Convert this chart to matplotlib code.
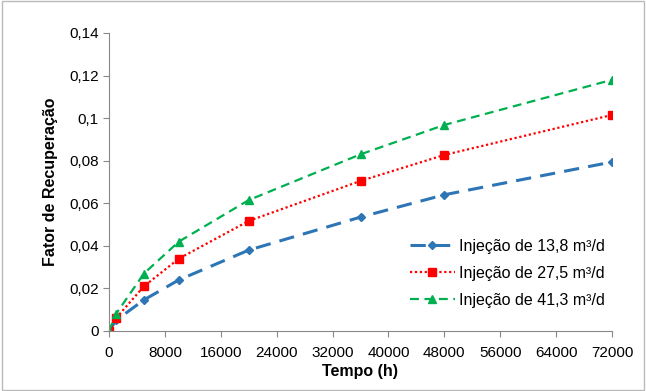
import matplotlib
matplotlib.use('Agg')
import matplotlib.pyplot as plt
from matplotlib.ticker import FuncFormatter

plt.rcParams['font.family'] = ['Liberation Sans', 'DejaVu Sans']

tempo = [0, 1000, 5000, 10000, 20000, 36000, 48000, 72000]
fr_138 = [0, 0.005, 0.0146, 0.024, 0.038, 0.0535, 0.064, 0.0794]
fr_275 = [0, 0.006, 0.021, 0.034, 0.0517, 0.0705, 0.0827, 0.1015]
fr_413 = [0, 0.008, 0.027, 0.042, 0.0615, 0.083, 0.0968, 0.118]
labels = ['Injeção de 13,8 m³/d', 'Injeção de 27,5 m³/d', 'Injeção de 41,3 m³/d']

W, H = 646, 391
fig = plt.figure(figsize=(W / 100, H / 100), dpi=100)
ax = fig.add_axes([109 / W, 1 - 331 / H, (612 - 109) / W, (331 - 33) / H])

ax.plot(tempo, fr_138, color='#2E75B6', ls=(0, (5, 3)), lw=2.2, marker='D', ms=4.5, label=labels[0])
ax.plot(tempo, fr_275, color='#FF0000', ls=(0, (1, 1.2)), lw=1.6, marker='s', ms=5.5, label=labels[1])
ax.plot(tempo, fr_413, color='#00B050', ls=(0, (4, 2.5)), lw=1.6, marker='^', ms=6, label=labels[2])

ax.set_xlim(0, 72000)
ax.set_ylim(0, 0.14)
ax.set_xticks(range(0, 72001, 8000))
ax.set_yticks([0, 0.02, 0.04, 0.06, 0.08, 0.1, 0.12, 0.14])
ax.yaxis.set_major_formatter(FuncFormatter(lambda v, p: '0' if v == 0 else f'{v:g}'.replace('.', ',')))

for s in ['top', 'right']:
    ax.spines[s].set_visible(False)
for s in ['left', 'bottom']:
    ax.spines[s].set_color('#888888')
ax.tick_params(direction='out', length=4, color='#888888', labelsize=11, colors='black')
ax.tick_params(axis='x', pad=7)

ax.set_xlabel('Tempo (h)', fontsize=11.5, fontweight='bold', labelpad=3)
ax.set_ylabel('Fator de Recuperação', fontsize=11.5, fontweight='bold', labelpad=8)

ax.legend(loc='lower right', bbox_to_anchor=(1.015, 0.03), frameon=False, fontsize=11.5,
          handlelength=2.8, handletextpad=0.3, labelspacing=0.75)

fig.patches.append(plt.Rectangle((0.003, 0.003), 0.994, 0.994, transform=fig.transFigure,
                                 fill=False, edgecolor='#BBBBBB', lw=1))

fig.savefig('out.png', dpi=100)
